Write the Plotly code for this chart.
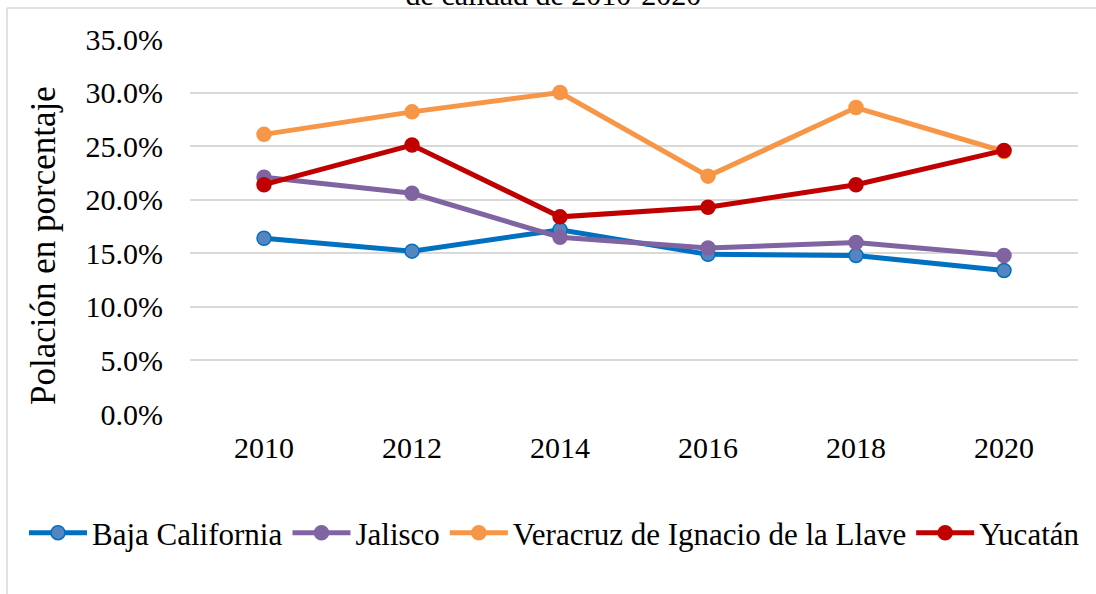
import plotly.graph_objects as go

years = ["2010", "2012", "2014", "2016", "2018", "2020"]
baja_california = [0.164, 0.152, 0.172, 0.149, 0.148, 0.134]
jalisco = [0.221, 0.206, 0.165, 0.155, 0.160, 0.148]
veracruz = [0.261, 0.282, 0.300, 0.222, 0.286, 0.245]
yucatan = [0.214, 0.251, 0.184, 0.193, 0.214, 0.246]
y_ticks = [0, 0.05, 0.10, 0.15, 0.20, 0.25, 0.30, 0.35]

series = [
    ("Baja California", baja_california, "#0070C0", "#5585C0"),
    ("Jalisco", jalisco, "#8064A2", "#8064A2"),
    ("Veracruz de Ignacio de la Llave", veracruz, "#F79646", "#F79646"),
    ("Yucatán", yucatan, "#C00000", "#C00000"),
]

FONT = "Liberation Serif"
W, H = 1096, 594
L, R, T, B = 190, 18, 39, 180
pw, ph = W - L - R, H - T - B

fig = go.Figure()
for name, vals, lc, mc in series:
    fig.add_trace(go.Scatter(
        x=years, y=vals, name=name, mode="lines+markers",
        line=dict(color=lc, width=5),
        marker=dict(size=14, color=mc, line=dict(color=lc, width=1.5)),
    ))

def px_x(p):
    return (p - L) / pw

def px_y(p):
    return (H - B - p) / ph

fig.update_layout(
    width=W, height=H,
    margin=dict(l=L, r=R, t=T, b=B, autoexpand=False),
    paper_bgcolor="white", plot_bgcolor="white",
    font=dict(family=FONT, size=30, color="#000000"),
    title=dict(text="de calidad de 2010-2020", x=0.505, xanchor="center",
               xref="container", yref="container", y=1 - 5 / H,
               yanchor="bottom", automargin=False,
               font=dict(family=FONT, size=30, color="#000000")),
    xaxis=dict(type="category", range=[-0.5, 5.5], showgrid=False,
               showline=False, zeroline=False, ticks="",
               ticklabelstandoff=13, tickangle=0, automargin=False,
               tickfont=dict(family=FONT, size=30)),
    yaxis=dict(range=[0, 0.35], tickvals=y_ticks, tickformat=".1%",
               showgrid=True, gridcolor="#D9D9D9", gridwidth=1.5,
               zeroline=False, showline=False, ticks="",
               ticklabelstandoff=26, automargin=False,
               tickfont=dict(family=FONT, size=30)),
    legend=dict(orientation="h", x=px_x(24), xanchor="left", xref="paper",
                y=px_y(533), yanchor="middle", yref="paper",
                font=dict(family=FONT, size=31), itemwidth=58,
                tracegroupgap=0, bgcolor="rgba(0,0,0,0)"),
    showlegend=True,
    shapes=[
        dict(type="line", xref="paper", yref="paper",
             x0=px_x(7), x1=px_x(1110), y0=px_y(8), y1=px_y(8),
             line=dict(color="#D9D9D9", width=1.5)),
        dict(type="line", xref="paper", yref="paper",
             x0=px_x(7), x1=px_x(7), y0=px_y(8), y1=px_y(620),
             line=dict(color="#D9D9D9", width=1.5)),
    ],
    annotations=[
        dict(text="Polación en porcentaje", xref="paper", yref="paper",
             x=px_x(43), y=px_y(246), textangle=-90, showarrow=False,
             xanchor="center", yanchor="middle",
             font=dict(family=FONT, size=35, color="#000000")),
    ],
)

fig.write_html("out.html", config={"displayModeBar": False},
               post_script="document.body.style.margin='0';document.body.style.overflow='hidden';")
